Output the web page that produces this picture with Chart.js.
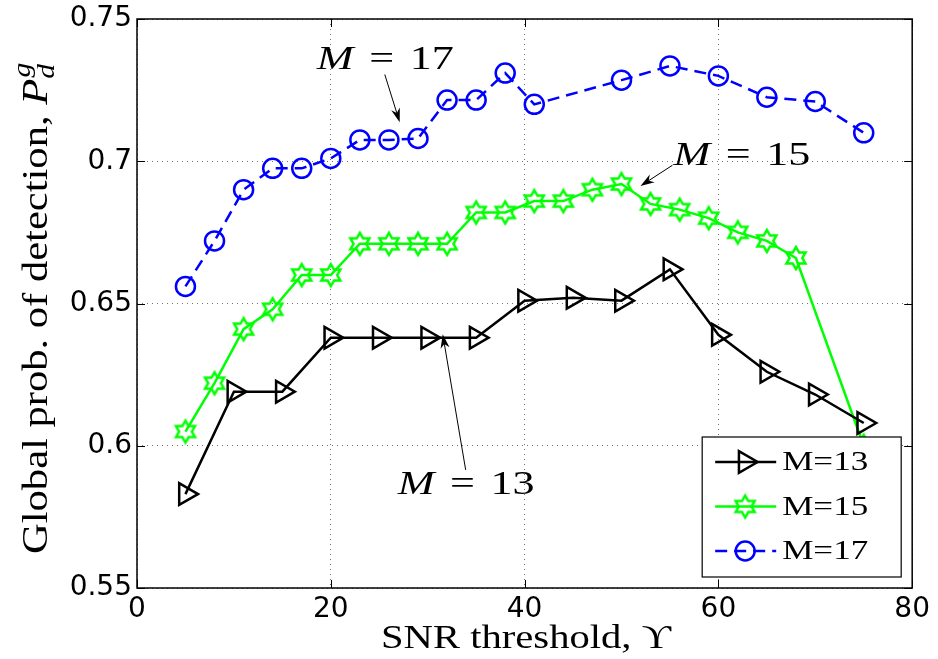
<!DOCTYPE html>
<html>
<head>
<meta charset="utf-8">
<script src="https://cdn.jsdelivr.net/npm/chart.js@4.4.0/dist/chart.umd.min.js"></script>
<style>
  html, body { margin: 0; padding: 0; background: #fff; }
  #wrap { width: 938px; height: 659px; }
</style>
</head>
<body>
<div id="wrap"><canvas id="myChart" width="938" height="659"></canvas></div>
<script>
// SNR threshold values for each curve
const snrM13 = [5, 10, 15, 20, 25, 30, 35, 40, 45, 50, 55, 60, 65, 70, 75];
const snrM15 = [5, 8, 11, 14, 17, 20, 23, 26, 29, 32, 35, 38, 41, 44, 47, 50, 53, 56, 59, 62, 65, 68, 75];
const snrM17 = [5, 8, 11, 14, 17, 20, 23, 26, 29, 32, 35, 38, 41, 50, 55, 60, 65, 70, 75];

// global prob. of detection
const pdM13 = [0.583, 0.619, 0.619, 0.638, 0.638, 0.638, 0.638, 0.651, 0.652, 0.651, 0.662, 0.639, 0.626, 0.618, 0.608];
const pdM15 = [0.605, 0.622, 0.641, 0.648, 0.660, 0.660, 0.671, 0.671, 0.671, 0.671, 0.682, 0.682, 0.686, 0.686, 0.690, 0.692, 0.685, 0.683, 0.680, 0.675, 0.672, 0.666, 0.600];
const pdM17 = [0.656, 0.672, 0.690, 0.6975, 0.6975, 0.701, 0.7075, 0.7075, 0.708, 0.7215, 0.7215, 0.731, 0.720, 0.7285, 0.7335, 0.730, 0.7225, 0.721, 0.710];

const seriesLabels = ['M=13', 'M=15', 'M=17'];
const xTicks = [0, 20, 40, 60, 80];
const yTicks = [0.55, 0.6, 0.65, 0.7, 0.75];

const SERIF = '"Liberation Serif", "DejaVu Serif", serif';

// hollow six-pointed star, like matlab's hexagram marker
function hexagram(color, r, lw) {
  const s = Math.ceil(2 * r + 4 * lw);
  const c = document.createElement('canvas');
  c.width = s; c.height = s;
  const g = c.getContext('2d');
  g.strokeStyle = color;
  g.lineWidth = lw;
  g.beginPath();
  for (let i = 0; i < 12; i++) {
    const a = -Math.PI / 2 + i * Math.PI / 6;
    const rr = i % 2 === 0 ? r : r / Math.sqrt(3);
    const px = s / 2 + rr * Math.cos(a), py = s / 2 + rr * Math.sin(a);
    if (i === 0) g.moveTo(px, py); else g.lineTo(px, py);
  }
  g.closePath();
  g.stroke();
  return c;
}

function pts(xs, ys) {
  return xs.map((x, i) => ({ x: x, y: ys[i] }));
}

// "M = n" labels with arrows, in data coords
const notes = [
  { n: '17', at: [18.56, 0.7325], from: [25.57, 0.7305], to: [27.11, 0.7137] },
  { n: '15', at: [55.36, 0.6986], from: [55.26, 0.6986], to: [51.96, 0.6913] },
  { n: '13', at: [26.9, 0.5832], from: [33.92, 0.5915], to: [31.55, 0.6392] }
];

// draw text squeezed/stretched to a given width
function fitParts(ctx, parts, width, gap) {
  let tot = 0;
  parts.forEach(p => { ctx.font = p.f; p.w = ctx.measureText(p.t).width; tot += p.w; });
  tot += gap * (parts.length - 1);
  const sx = width / tot;
  ctx.save();
  ctx.scale(sx, 1);
  let cx = 0;
  parts.forEach(p => {
    ctx.font = p.f;
    ctx.fillText(p.t, cx, p.dy || 0);
    cx += p.w + gap;
  });
  ctx.restore();
}

function arrow(ctx, x1, y1, x2, y2, len) {
  const ang = Math.atan2(y2 - y1, x2 - x1);
  ctx.beginPath();
  ctx.moveTo(x1, y1);
  ctx.lineTo(x2 - Math.cos(ang) * len * 0.7, y2 - Math.sin(ang) * len * 0.7);
  ctx.stroke();
  ctx.beginPath();
  ctx.moveTo(x2, y2);
  ctx.lineTo(x2 - len * Math.cos(ang) + 4.5 * Math.sin(ang), y2 - len * Math.sin(ang) - 4.5 * Math.cos(ang));
  ctx.lineTo(x2 - len * 0.7 * Math.cos(ang), y2 - len * 0.7 * Math.sin(ang));
  ctx.lineTo(x2 - len * Math.cos(ang) - 4.5 * Math.sin(ang), y2 - len * Math.sin(ang) + 4.5 * Math.cos(ang));
  ctx.closePath();
  ctx.fill();
}

const extras = {
  id: 'extras',
  afterDatasetsDraw(chart) {
    const { ctx, chartArea: a, scales } = chart;
    const x = scales.x, y = scales.y;
    ctx.save();

    // box + inward ticks
    ctx.strokeStyle = '#000';
    ctx.lineWidth = 1.5;
    ctx.strokeRect(a.left, a.top, a.right - a.left, a.bottom - a.top);
    ctx.lineWidth = 1;
    ctx.beginPath();
    xTicks.forEach(v => {
      const px = Math.round(x.getPixelForValue(v)) + 0.5;
      ctx.moveTo(px, a.bottom); ctx.lineTo(px, a.bottom - 8);
      ctx.moveTo(px, a.top); ctx.lineTo(px, a.top + 8);
    });
    yTicks.forEach(v => {
      const py = Math.round(y.getPixelForValue(v)) + 0.5;
      ctx.moveTo(a.left, py); ctx.lineTo(a.left + 8, py);
      ctx.moveTo(a.right, py); ctx.lineTo(a.right - 8, py);
    });
    ctx.stroke();

    // annotations
    ctx.fillStyle = '#000';
    ctx.textBaseline = 'alphabetic';
    notes.forEach(nt => {
      ctx.save();
      ctx.translate(x.getPixelForValue(nt.at[0]), y.getPixelForValue(nt.at[1]));
      fitParts(ctx, [
        { t: 'M', f: 'italic 34px ' + SERIF },
        { t: '=', f: '34px ' + SERIF },
        { t: nt.n, f: '34px ' + SERIF }
      ], 137, 12);
      ctx.restore();
      ctx.lineWidth = 1;
      arrow(ctx, x.getPixelForValue(nt.from[0]), y.getPixelForValue(nt.from[1]),
        x.getPixelForValue(nt.to[0]), y.getPixelForValue(nt.to[1]), 14);
    });

    // legend
    const lw = 199, lh = 140;
    const lx = a.right - 11 - lw, ly = a.bottom - 11 - lh;
    ctx.fillStyle = '#fff';
    ctx.fillRect(lx, ly, lw, lh);
    ctx.strokeStyle = '#000';
    ctx.lineWidth = 1.2;
    ctx.strokeRect(lx, ly, lw, lh);
    chart.data.datasets.forEach((ds, i) => {
      const ry = ly + 25 + i * 44.5;
      ctx.save();
      ctx.strokeStyle = ds.borderColor;
      ctx.lineWidth = ds.borderWidth;
      ctx.setLineDash(ds.borderDash || []);
      ctx.beginPath();
      ctx.moveTo(lx + 13, ry); ctx.lineTo(lx + 74, ry);
      ctx.stroke();
      ctx.setLineDash([]);
      ctx.fillStyle = 'rgba(0,0,0,0)';
      ctx.strokeStyle = ds.pointBorderColor;
      ctx.lineWidth = ds.pointBorderWidth;
      Chart.helpers.drawPoint(ctx, {
        pointStyle: ds.pointStyle, rotation: ds.pointRotation || 0,
        radius: ds.pointRadius, borderWidth: ds.pointBorderWidth
      }, lx + 43, ry);
      ctx.restore();
      ctx.save();
      ctx.fillStyle = '#000';
      ctx.textBaseline = 'middle';
      ctx.translate(lx + 80, ry + 1);
      fitParts(ctx, [{ t: ds.label, f: '27px ' + SERIF }], 86, 0);
      ctx.restore();
    });

    // axis titles
    ctx.fillStyle = '#000';
    ctx.textBaseline = 'alphabetic';
    ctx.save();
    ctx.translate(381, 648);
    fitParts(ctx, [{ t: 'SNR threshold, \u03D2', f: '33px ' + SERIF }], 290, 0);
    ctx.restore();

    ctx.save();
    ctx.translate(47, 554);
    ctx.rotate(-Math.PI / 2);
    fitParts(ctx, [
      { t: 'Global prob. of detection, ', f: '36px ' + SERIF },
      { t: 'P', f: 'italic 36px ' + SERIF },
      { t: 'd', f: 'italic 25px ' + SERIF, dy: 7 }
    ], 490, 0);
    ctx.restore();
    // superscript g sits over the subscript d
    ctx.save();
    ctx.translate(47, 554);
    ctx.rotate(-Math.PI / 2);
    ctx.font = '36px ' + SERIF;
    const wMain = ctx.measureText('Global prob. of detection, ').width;
    ctx.font = 'italic 36px ' + SERIF;
    const wP = ctx.measureText('P').width;
    ctx.font = 'italic 25px ' + SERIF;
    const wd = ctx.measureText('d').width;
    const sx = 490 / (wMain + wP + wd);
    ctx.scale(sx, 1);
    ctx.fillText('g', wMain + wP + 1, -17);
    ctx.restore();

    ctx.restore();
  }
};

const ctx = document.getElementById('myChart').getContext('2d');
new Chart(ctx, {
  type: 'line',
  data: {
    datasets: [
      {
        label: seriesLabels[0],
        data: pts(snrM13, pdM13),
        borderColor: '#000000',
        borderWidth: 2.5,
        pointStyle: 'triangle',
        pointRotation: 90,
        pointRadius: 12.5,
        pointBorderWidth: 2.5,
        pointBorderColor: '#000000',
        pointBackgroundColor: 'rgba(0,0,0,0)',
        tension: 0,
        fill: false
      },
      {
        label: seriesLabels[1],
        data: pts(snrM15, pdM15),
        borderColor: '#00ff00',
        borderWidth: 2.5,
        pointStyle: hexagram('#00ff00', 11, 2.5),
        pointRadius: 11,
        pointBorderWidth: 2.5,
        pointBorderColor: '#00ff00',
        pointBackgroundColor: 'rgba(0,0,0,0)',
        tension: 0,
        fill: false
      },
      {
        label: seriesLabels[2],
        data: pts(snrM17, pdM17),
        borderColor: '#0000ff',
        borderWidth: 2.5,
        borderDash: [12, 7],
        pointStyle: 'circle',
        pointRadius: 9.5,
        pointBorderWidth: 2.5,
        pointBorderColor: '#0000ff',
        pointBackgroundColor: 'rgba(0,0,0,0)',
        tension: 0,
        fill: false
      }
    ]
  },
  options: {
    responsive: false,
    animation: false,
    events: [],
    layout: { padding: { top: 16, right: 25, left: 0, bottom: 0 } },
    plugins: { legend: { display: false }, tooltip: { enabled: false } },
    scales: {
      x: {
        type: 'linear',
        min: 0, max: 80,
        afterBuildTicks: s => { s.ticks = xTicks.map(v => ({ value: v })); },
        afterFit: s => { s.height = 71; },
        ticks: {
          color: '#000',
          padding: 8,
          maxRotation: 0,
          font: { family: 'DejaVu Sans', size: 28, lineHeight: 1 },
          callback: v => String(v)
        },
        grid: { color: 'rgba(0,0,0,0.55)', lineWidth: 1, drawTicks: false },
        border: { display: false, dash: [1, 4] }
      },
      y: {
        type: 'linear',
        min: 0.55, max: 0.75,
        afterBuildTicks: s => { s.ticks = yTicks.map(v => ({ value: v })); },
        afterFit: s => { s.width = 137; },
        ticks: {
          color: '#000',
          padding: 5,
          font: { family: 'DejaVu Sans', size: 28, lineHeight: 1 },
          callback: v => String(+v.toFixed(2))
        },
        grid: { color: 'rgba(0,0,0,0.55)', lineWidth: 1, drawTicks: false },
        border: { display: false, dash: [1, 4] }
      }
    }
  },
  plugins: [extras]
});
</script>
</body>
</html>
